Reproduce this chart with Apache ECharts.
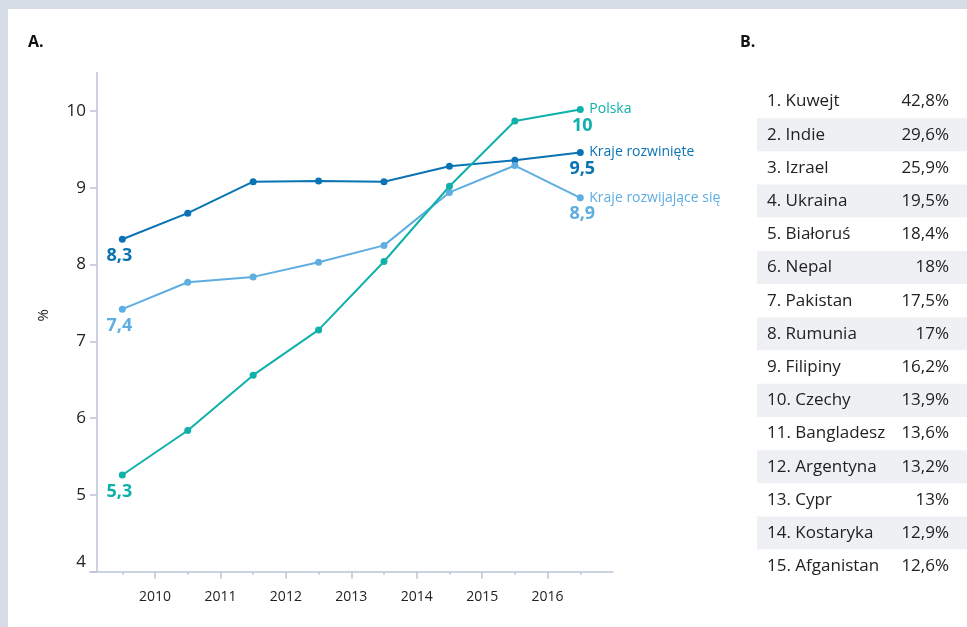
<!DOCTYPE html>
<html>
<head>
<meta charset="utf-8">
<script src="https://cdn.jsdelivr.net/npm/echarts@6/dist/echarts.min.js"></script>
<style>
  html, body { margin: 0; padding: 0; background: #d6dde6; }
  #panel { position: absolute; left: 8px; top: 9px; right: 0; bottom: 0; background: #ffffff; }
  #chart { position: absolute; left: 0; top: 0; width: 967px; height: 627px; }
</style>
</head>
<body>
<div id="panel"></div>
<div id="chart"></div>
<script>
// A. annual values, %
const years = [2009, 2010, 2011, 2012, 2013, 2014, 2015, 2016];
const yearTickLabels = [2010, 2011, 2012, 2013, 2014, 2015, 2016];
const percentTicks = [4, 5, 6, 7, 8, 9, 10];
const polska = [5.26, 5.84, 6.56, 7.15, 8.04, 9.02, 9.87, 10.02];
const krajeRozwiniete = [8.33, 8.67, 9.08, 9.09, 9.08, 9.28, 9.36, 9.46];
const krajeRozwijajace = [7.42, 7.77, 7.84, 8.03, 8.25, 8.94, 9.29, 8.87];

// B. ranking
const countries = ['Kuwejt', 'Indie', 'Izrael', 'Ukraina', 'Białoruś', 'Nepal', 'Pakistan',
  'Rumunia', 'Filipiny', 'Czechy', 'Bangladesz', 'Argentyna', 'Cypr', 'Kostaryka', 'Afganistan'];
const shares = [42.8, 29.6, 25.9, 19.5, 18.4, 18, 17.5, 17, 16.2, 13.9, 13.6, 13.2, 13, 12.9, 12.6];

const FONT = '"Open Sans", "Noto Sans", sans-serif';
const AXIS_COLOR = '#bcc5d6';
const TEXT = '#222222';
const MID_YEAR = 0.5; // yearly values sit in the middle of each year band

const fmt = v => String(Number(v.toFixed(1))).replace('.', ',');

function lineSeries(name, values, color) {
  const last = values.length - 1;
  return {
    type: 'line',
    name: name,
    xAxisIndex: 0,
    yAxisIndex: 0,
    data: values.map((v, i) => {
      const item = { value: [years[i] + MID_YEAR, v] };
      // value labels only at both ends of the line
      if (i === 0) item.label = { show: true, offset: [-3, 0] };
      else if (i === last) item.label = { show: true, offset: [2, 0] };
      return item;
    }),
    symbol: 'circle',
    symbolSize: 7,
    showSymbol: true,
    lineStyle: { color: color, width: 2 },
    itemStyle: { color: color },
    emphasis: { disabled: true },
    label: {
      show: false,
      position: 'bottom',
      distance: 4,
      fontFamily: FONT,
      fontWeight: 'bold',
      fontSize: 18,
      color: color,
      formatter: p => fmt(p.value[1])
    },
    endLabel: {
      show: true,
      formatter: '{a}',
      distance: 9,
      fontFamily: FONT,
      fontSize: 14,
      color: color
    }
  };
}

const chart = echarts.init(document.getElementById('chart'), null, { renderer: 'canvas' });

chart.setOption({
  animation: false,
  backgroundColor: 'transparent',
  textStyle: { fontFamily: FONT },
  graphic: [
    { type: 'text', x: 28, y: 42, style: { text: 'A.', font: 'bold 16px ' + FONT, fill: '#111', verticalAlign: 'middle' } },
    { type: 'text', x: 740, y: 42, style: { text: 'B.', font: 'bold 16px ' + FONT, fill: '#111', verticalAlign: 'middle' } }
  ],
  grid: [
    { left: 89.6, right: 354, top: 72.6, bottom: 55.2 },
    { left: 757, right: 0, top: 85, height: 498 }
  ],
  xAxis: [
    {
      gridIndex: 0,
      type: 'value',
      min: 2009,
      max: 2017,
      interval: 1,
      axisLine: { show: true, lineStyle: { color: AXIS_COLOR, width: 1.5 } },
      axisTick: { show: true, length: 7, customValues: yearTickLabels, lineStyle: { color: AXIS_COLOR, width: 1.5 } },
      minorTick: { show: true, splitNumber: 2, length: 3, lineStyle: { color: AXIS_COLOR, width: 1.5 } },
      axisLabel: { customValues: yearTickLabels, formatter: v => String(v), fontSize: 14, color: TEXT, margin: 18 },
      splitLine: { show: false },
      minorSplitLine: { show: false }
    },
    { gridIndex: 1, type: 'value', min: 0, max: 1, show: false }
  ],
  yAxis: [
    {
      gridIndex: 0,
      type: 'value',
      min: 4,
      max: 10.5,
      interval: 1,
      offset: -7.4,
      name: '%',
      nameLocation: 'middle',
      nameGap: 46,
      nameRotate: 90,
      nameTextStyle: { fontSize: 15, color: TEXT, padding: [0, 0, 0, 14] },
      axisLine: { show: true, lineStyle: { color: AXIS_COLOR, width: 1.5 } },
      axisTick: { show: true, length: 7, customValues: percentTicks, lineStyle: { color: AXIS_COLOR, width: 1.5 } },
      axisLabel: {
        customValues: percentTicks,
        fontSize: 17,
        color: TEXT,
        margin: 11,
        formatter: v => v === 4 ? '{low|4}' : String(v),
        rich: { low: { fontSize: 17, color: TEXT, padding: [0, 0, 20, 0] } }
      },
      splitLine: { show: false }
    },
    {
      gridIndex: 1,
      type: 'category',
      inverse: true,
      data: countries,
      axisLine: { show: false },
      axisTick: { show: false, interval: 0 },
      splitLine: { show: false },
      splitArea: { show: true, interval: 0, areaStyle: { color: ['#ffffff', '#eef0f4'] } },
      axisLabel: {
        inside: true,
        interval: 0,
        margin: 10,
        align: 'left',
        fontSize: 17,
        color: TEXT,
        formatter: (v, i) => (i + 1) + '. ' + v
      }
    },
    {
      gridIndex: 1,
      type: 'category',
      inverse: true,
      position: 'right',
      data: countries,
      axisLine: { show: false },
      axisTick: { show: false },
      splitLine: { show: false },
      splitArea: { show: false },
      axisLabel: {
        inside: true,
        interval: 0,
        margin: 18,
        align: 'right',
        fontSize: 17,
        color: TEXT,
        formatter: (v, i) => fmt(shares[i]) + '%'
      }
    }
  ],
  series: [
    lineSeries('Kraje rozwinięte', krajeRozwiniete, '#0a73b4'),
    lineSeries('Kraje rozwijające się', krajeRozwijajace, '#5eaee2'),
    lineSeries('Polska', polska, '#10b1ab')
  ]
});
</script>
</body>
</html>
